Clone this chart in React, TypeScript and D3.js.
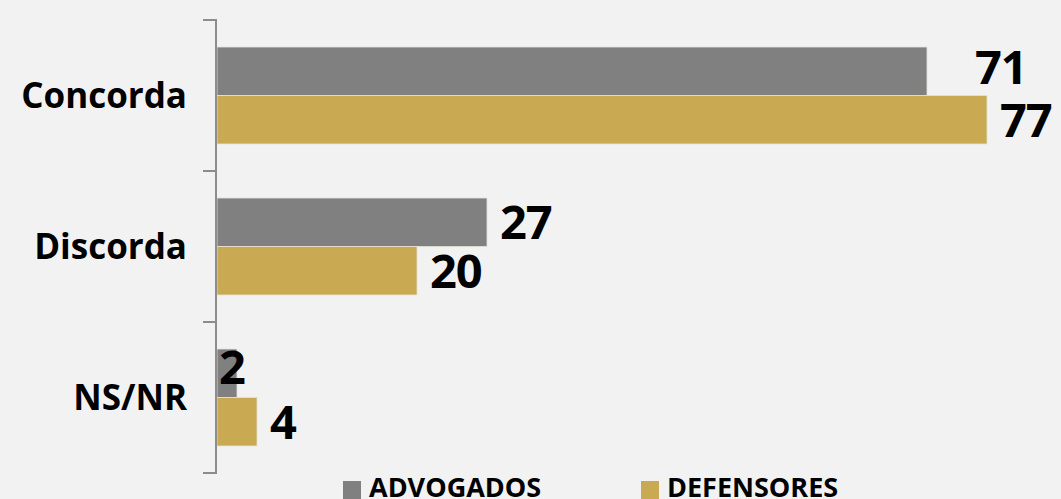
import React from "react";
import * as d3 from "d3";

const categories = ["Concorda", "Discorda", "NS/NR"];
const seriesNames = ["ADVOGADOS", "DEFENSORES"];
const advogados = [71, 27, 2];
const defensores = [77, 20, 4];
const colors = ["#808080", "#c9a951"];

const W = 1061;
const H = 499;

export default function App() {
  const x = d3.scaleLinear().domain([0, 100]).range([217, 1217]);
  const y = d3.scaleBand<string>().domain(categories).range([20, 473]).paddingInner(0).paddingOuter(0);
  const inner = d3
    .scaleBand<string>()
    .domain(seriesNames)
    .range([0, y.bandwidth()])
    .paddingInner(0)
    .paddingOuter(0.557);
  const values = [advogados, defensores];
  const ticks = categories.map((c) => y(c)!).concat([y.range()[1]]);
  const font = "'Open Sans', 'Noto Sans', sans-serif";

  // label nudges mimicking the reference's collision-avoided label placement
  const nudge = (si: number, ci: number) => {
    if (si === 0 && ci === 0) return { dx: 48, dy: -4 };
    if (si === 0 && ci === 2) return { dx: -18, dy: -6 };
    return { dx: 13, dy: 0 };
  };

  return (
    <svg
      width={W}
      height={H}
      style={{ position: "fixed", left: 0, top: 0, background: "#f2f2f2", display: "block" }}
    >
      <rect x={0} y={0} width={W} height={H} fill="#f2f2f2" />
      {categories.map((c, ci) =>
        seriesNames.map((s, si) => {
          const v = values[si][ci];
          const by = y(c)! + inner(s)!;
          const n = nudge(si, ci);
          return (
            <g key={c + s}>
              <rect
                x={x(0)}
                y={by}
                width={x(v) - x(0)}
                height={inner.bandwidth()}
                fill={colors[si]}
                stroke="#e6e2d8"
                strokeWidth={0.8}
              />
              <text
                x={x(v) + n.dx}
                y={by + inner.bandwidth() / 2 + n.dy}
                dy="0.36em"
                fontFamily={font}
                fontWeight={700}
                fontSize={47}
                letterSpacing={-1}
                fill="#000"
              >
                {v}
              </text>
            </g>
          );
        })
      )}
      <line x1={216} x2={216} y1={ticks[0]} y2={ticks[ticks.length - 1]} stroke="#8c8c8c" strokeWidth={2} />
      {ticks.map((t, i) => (
        <line key={i} x1={203} x2={217} y1={t} y2={t} stroke="#8c8c8c" strokeWidth={2} />
      ))}
      {categories.map((c) => (
        <text
          key={c}
          x={187}
          y={y(c)! + y.bandwidth() / 2}
          dy="0.36em"
          textAnchor="end"
          fontFamily={font}
          fontWeight={700}
          fontSize={35}
          fill="#000"
        >
          {c}
        </text>
      ))}
      {seriesNames.map((s, si) => {
        const lx = [343, 641][si];
        return (
          <g key={s}>
            <rect x={lx} y={481} width={18} height={18} fill={colors[si]} />
            <text x={lx + 26} y={478} dy="0.72em" fontFamily={font} fontWeight={700} fontSize={27} fill="#000">
              {s}
            </text>
          </g>
        );
      })}
    </svg>
  );
}
